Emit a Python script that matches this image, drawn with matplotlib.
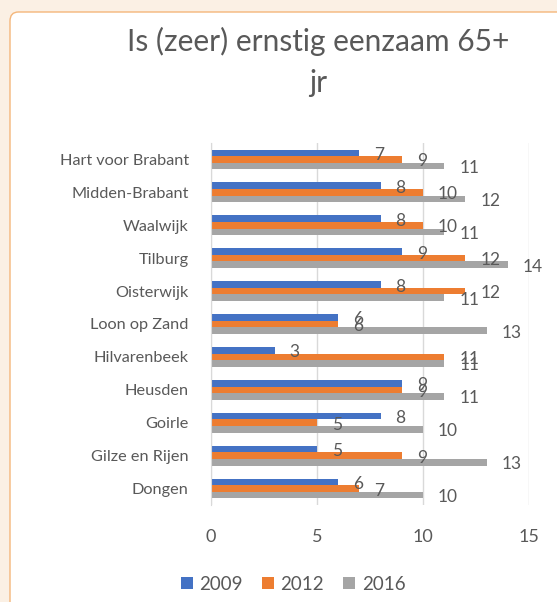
import matplotlib.pyplot as plt
from matplotlib.patches import FancyBboxPatch
import numpy as np

plt.rcParams['font.family'] = ['Lato', 'DejaVu Sans']

gemeenten = ['Hart voor Brabant', 'Midden-Brabant', 'Waalwijk', 'Tilburg',
             'Oisterwijk', 'Loon op Zand', 'Hilvarenbeek', 'Heusden',
             'Goirle', 'Gilze en Rijen', 'Dongen']
jaren = ['2009', '2012', '2016']
v2009 = [7, 8, 8, 9, 8, 6, 3, 9, 8, 5, 6]
v2012 = [9, 10, 10, 12, 12, 6, 11, 9, 5, 9, 7]
v2016 = [11, 12, 11, 14, 11, 13, 11, 11, 10, 13, 10]
kleuren = ['#4472C4', '#ED7D31', '#A5A5A5']
tekst = '#595959'

fig = plt.figure(figsize=(5.57, 6.02), dpi=100)
fig.patch.set_facecolor('#FBF0E4')

# witte kaart met afgeronde hoeken
kaart = FancyBboxPatch((10 / 557, -0.05), 1.0, 1 - 12 / 602 + 0.05,
                       boxstyle='round,pad=0,rounding_size=0.015',
                       transform=fig.transFigure, facecolor='white',
                       edgecolor='#F4B67A', linewidth=1.0, zorder=-5)
fig.patches.append(kaart)

ax = fig.add_axes([211 / 557, 1 - 505 / 602, (529 - 211) / 557, (505 - 143) / 602])
ax.set_facecolor('none')

y = np.arange(len(gemeenten))
h = 0.2
for i, (reeks, kleur, jaar) in enumerate(zip([v2009, v2012, v2016], kleuren, jaren)):
    pos = y + (i - 1) * h
    ax.barh(pos, reeks, height=h, color=kleur, label=jaar, zorder=3)
    for p, v in zip(pos, reeks):
        ax.annotate(str(v), (v, p), xytext=(15, -2), textcoords='offset pixels',
                    ha='left', va='center', fontsize=12.5, color=tekst, zorder=4)

ax.set_xlim(0, 15)
ax.set_ylim(len(gemeenten) - 0.5, -0.5)
ax.set_xticks([0, 5, 10, 15])
ax.set_yticks(y)
ax.set_yticklabels(gemeenten, fontsize=11.7, color=tekst)
ax.tick_params(axis='x', length=0, labelsize=13, labelcolor=tekst, pad=17)
ax.tick_params(axis='y', length=0, pad=16)
ax.grid(axis='x', color='#D9D9D9', linewidth=1, zorder=0)
for s in ['top', 'right', 'bottom']:
    ax.spines[s].set_visible(False)
ax.spines['left'].set_color('#D9D9D9')
ax.spines['left'].set_zorder(5)

fig.text(318 / 557, 1 - 62 / 602, 'Is (zeer) ernstig eenzaam 65+\njr',
         ha='center', va='center', fontsize=21.5, color=tekst, linespacing=1.6)

fig.legend(loc='center', bbox_to_anchor=(293 / 557, 1 - 584 / 602), ncol=3,
           frameon=False, fontsize=13.5, labelcolor=tekst, handlelength=0.65,
           handleheight=0.65, handletextpad=0.35, columnspacing=1.0)

fig.savefig('out.png', dpi=100, facecolor=fig.get_facecolor())
